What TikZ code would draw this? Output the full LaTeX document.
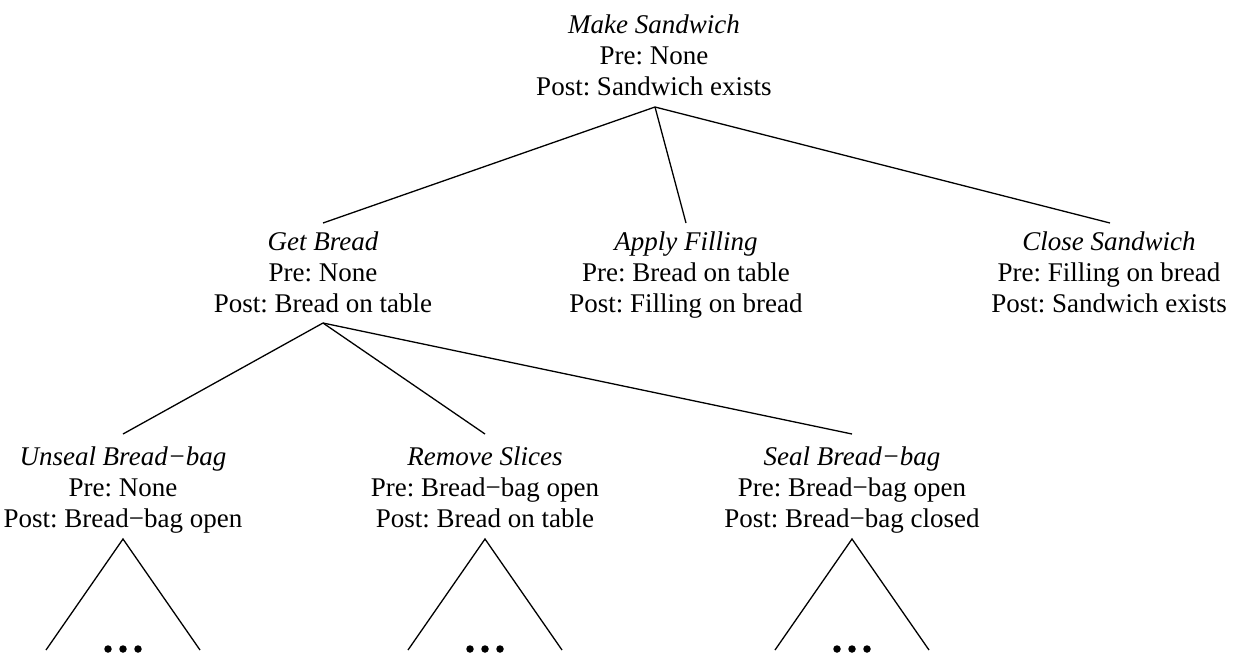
\documentclass[tikz,border=0pt]{standalone}
\usepackage{fontspec}
\setmainfont{Liberation Serif}
\frenchspacing
\begin{document}
\begin{tikzpicture}[x=1pt,y=-1pt,
  task/.style={align=center,inner sep=0pt,anchor=base,font=\fontsize{27}{31}\selectfont},
  link/.style={line width=1.3pt},
  dot/.style={circle,fill=black,inner sep=0pt,minimum size=7.5pt}]
\useasboundingbox (0,0) rectangle (1235,657);
\clip (0,0) rectangle (1235,657);
% nodes (anchored at the baseline of the last line)
\node[task] (make) at (654,95) {\textit{Make Sandwich}\\Pre: None\\Post: Sandwich exists};
\node[task] (get) at (323,312) {\textit{Get Bread}\\Pre: None\\Post: Bread on table};
\node[task] (apply) at (686,312) {\textit{Apply Filling}\\Pre: Bread on table\\Post: Filling on bread};
\node[task] (close) at (1109,312) {\textit{Close Sandwich}\\Pre: Filling on bread\\Post: Sandwich exists};
\node[task] (unseal) at (123,527) {\textit{Unseal Bread−bag}\\Pre: None\\Post: Bread−bag open};
\node[task] (remove) at (485,527) {\textit{Remove Slices}\\Pre: Bread−bag open\\Post: Bread on table};
\node[task] (seal) at (852,527) {\textit{Seal Bread−bag}\\Pre: Bread−bag open\\Post: Bread−bag closed};
% connector ends
\coordinate (make-b) at (655,107);
\coordinate (get-t) at (323,223);
\coordinate (apply-t) at (686,223);
\coordinate (close-t) at (1110,223);
\coordinate (get-b) at (323,323);
\coordinate (unseal-t) at (123,434);
\coordinate (remove-t) at (485,434);
\coordinate (seal-t) at (852,434);
\draw[link] (make-b) -- (get-t);
\draw[link] (make-b) -- (apply-t);
\draw[link] (make-b) -- (close-t);
\draw[link] (get-b) -- (unseal-t);
\draw[link] (get-b) -- (remove-t);
\draw[link] (get-b) -- (seal-t);
% subtrees
\foreach \n/\cx in {u/123,r/485,s/852}{
  \coordinate (\n-apex) at (\cx,539);
  \coordinate (\n-l) at (\cx-77,650);
  \coordinate (\n-r) at (\cx+77,650);
  \draw[link] (\n-l) -- (\n-apex) -- (\n-r);
  \node[dot] (\n-d1) at (\cx-15,649) {};
  \node[dot] (\n-d2) at (\cx,649) {};
  \node[dot] (\n-d3) at (\cx+15,649) {};
}
\end{tikzpicture}
\end{document}
